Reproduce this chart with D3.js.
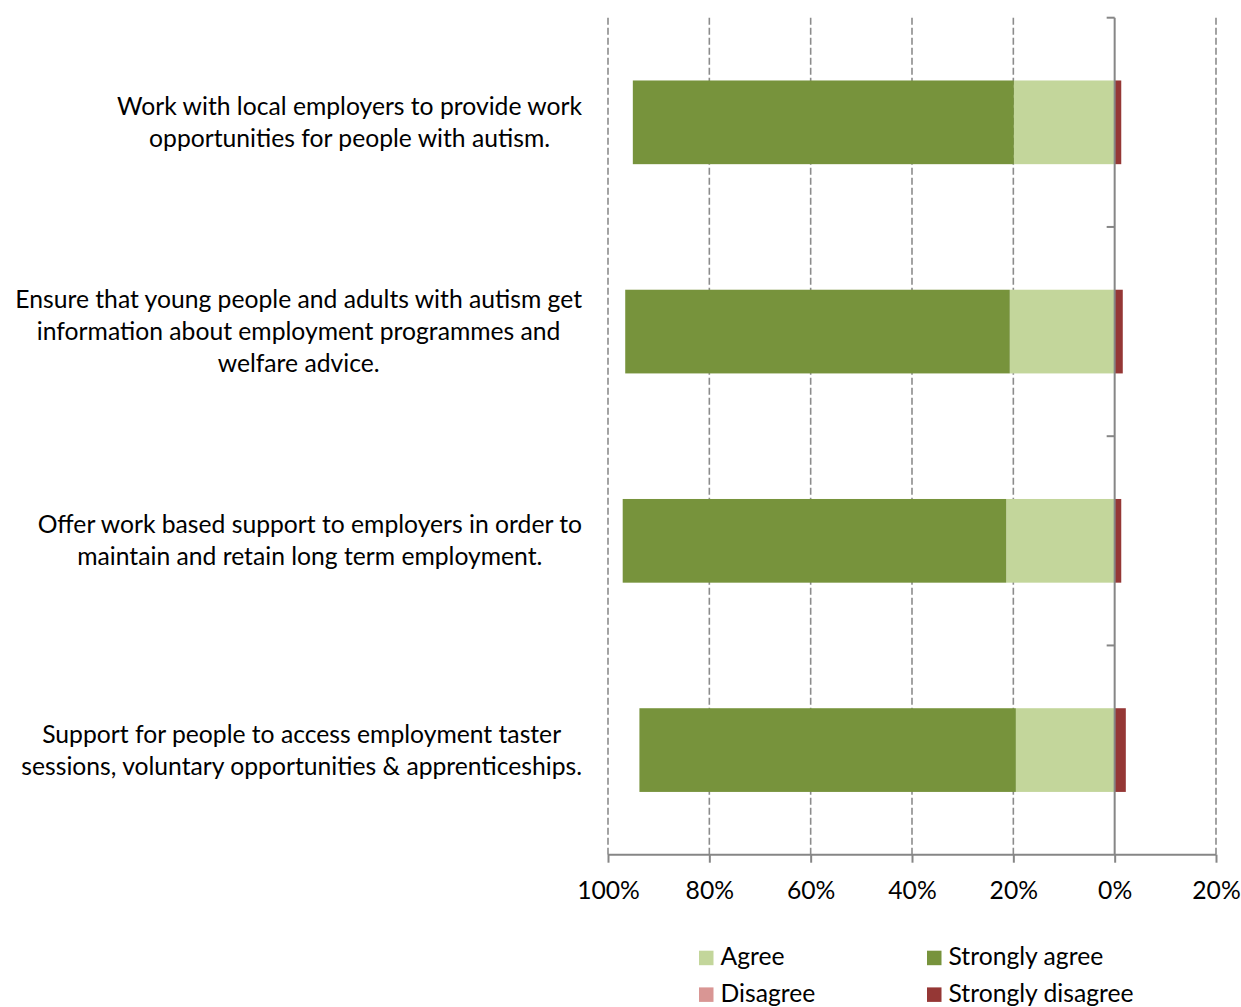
<!DOCTYPE html>
<html>
<head>
<meta charset="utf-8">
<script src="https://cdn.jsdelivr.net/npm/d3@7"></script>
<style>
  html, body { margin: 0; padding: 0; background: #fff; }
  svg text { font-family: Lato, "Open Sans", sans-serif; fill: #000; }
</style>
</head>
<body>
<svg id="chart" width="1241" height="1007"></svg>
<script>
// Survey statements (line breaks as they appear on the chart)
const categories = [
  ["Work with local employers to provide work", "opportunities for people with autism."],
  ["Ensure that young people and adults with autism get", "information about employment programmes and", "welfare advice."],
  ["Offer work based support to employers in order to", "maintain and retain long term employment."],
  ["Support for people to access employment taster", "sessions, voluntary opportunities & apprenticeships."]
];

// Percentage of responses per statement
const agree           = [19.9, 20.7, 21.4, 19.5];
const stronglyAgree   = [75.2, 75.9, 75.7, 74.3];
const disagree        = [0, 0, 0, 0];
const stronglyDisagree = [1.3, 1.6, 1.3, 2.2];

const tickValues = [-100, -80, -60, -40, -20, 0, 20];
const legendItems = ["Agree", "Strongly agree", "Disagree", "Strongly disagree"];

const colors = {
  "Agree": "#C3D69B",
  "Strongly agree": "#77933C",
  "Disagree": "#D99694",
  "Strongly disagree": "#953735"
};

const svg = d3.select("#chart");
const fontSize = 24.7;

const x = d3.scaleLinear().domain([-100, 20]).range([608, 1216]);
const keys = categories.map((c, i) => i);
const y = d3.scaleBand().domain(keys).range([17.7, 854.7])
  .paddingInner(0.6).paddingOuter(0.3);

// Dashed vertical gridlines
const gridColor = "#8c8c8c";
svg.append("g").selectAll("line")
  .data(tickValues.filter(v => v !== 0))
  .join("line")
  .attr("x1", d => x(d)).attr("x2", d => x(d))
  .attr("y1", 17.7).attr("y2", 854.7)
  .attr("stroke", gridColor).attr("stroke-width", 1.6)
  .attr("stroke-dasharray", "7,3");

// Stacked segments: agreement grows left of zero, disagreement right
const rows = keys.map(i => {
  const a = agree[i], sa = stronglyAgree[i], d = disagree[i], sd = stronglyDisagree[i];
  return [
    { key: "Agree", i, x0: -a, x1: 0 },
    { key: "Strongly agree", i, x0: -(a + sa), x1: -a },
    { key: "Disagree", i, x0: 0, x1: d },
    { key: "Strongly disagree", i, x0: d, x1: d + sd }
  ];
}).flat().filter(s => s.x1 > s.x0);

svg.append("g").selectAll("rect")
  .data(rows)
  .join("rect")
  .attr("x", d => x(d.x0))
  .attr("width", d => x(d.x1) - x(d.x0))
  .attr("y", d => y(d.i))
  .attr("height", y.bandwidth())
  .attr("fill", d => colors[d.key]);

// Bottom axis
const axisColor = "#868686";
const xAxis = d3.axisBottom(x)
  .tickValues(tickValues)
  .tickSize(8)
  .tickPadding(19)
  .tickFormat(d => Math.abs(d) + "%");
const gx = svg.append("g").attr("transform", "translate(0,854.7)").call(xAxis);
gx.select(".domain").attr("stroke", axisColor).attr("stroke-width", 2)
  .attr("d", `M${x(-100)},0H${x(20)}`);
gx.selectAll(".tick line").attr("stroke", axisColor).attr("stroke-width", 2);
gx.selectAll(".tick text").attr("font-size", fontSize).attr("font-family", "Lato, sans-serif").attr("fill", "#000");

// Zero axis with category ticks
const boundaries = d3.range(categories.length + 1).map(k => 17.7 + k * y.step());
const gy = svg.append("g");
gy.append("line")
  .attr("x1", x(0)).attr("x2", x(0))
  .attr("y1", 17.7).attr("y2", 854.7)
  .attr("stroke", axisColor).attr("stroke-width", 2);
gy.selectAll("line.tk")
  .data(boundaries.slice(0, -1))
  .join("line").attr("class", "tk")
  .attr("x1", x(0) - 8).attr("x2", x(0))
  .attr("y1", d => d).attr("y2", d => d)
  .attr("stroke", axisColor).attr("stroke-width", 2);

// Category labels: centred multi-line blocks whose right edge sits left of the plot
const lineHeight = 32;
const labelRight = 582;
const labels = svg.append("g");
categories.forEach((lines, i) => {
  const t = labels.append("text")
    .attr("font-size", fontSize)
    .attr("text-anchor", "middle");
  const cy = y(i) + y.bandwidth() / 2;
  const top = cy - (lines.length - 1) * lineHeight / 2;
  const spans = lines.map((ln, k) => t.append("tspan")
    .attr("y", top + k * lineHeight)
    .attr("dy", "0.35em")
    .text(ln));
  const maxW = d3.max(spans, s => s.node().getComputedTextLength());
  spans.forEach(s => s.attr("x", labelRight - maxW / 2));
});

// Legend (two columns, two rows)
const legend = svg.append("g");
legendItems.forEach((name, k) => {
  const col = k % 2, row = Math.floor(k / 2);
  const lx = 699 + col * 228, ly = 950.7 + row * 36.7;
  legend.append("rect")
    .attr("x", lx).attr("y", ly).attr("width", 14.5).attr("height", 14.5)
    .attr("fill", colors[name]);
  legend.append("text")
    .attr("x", lx + 21.5).attr("y", ly + 14.5)
    .attr("font-size", fontSize)
    .text(name);
});
</script>
</body>
</html>
